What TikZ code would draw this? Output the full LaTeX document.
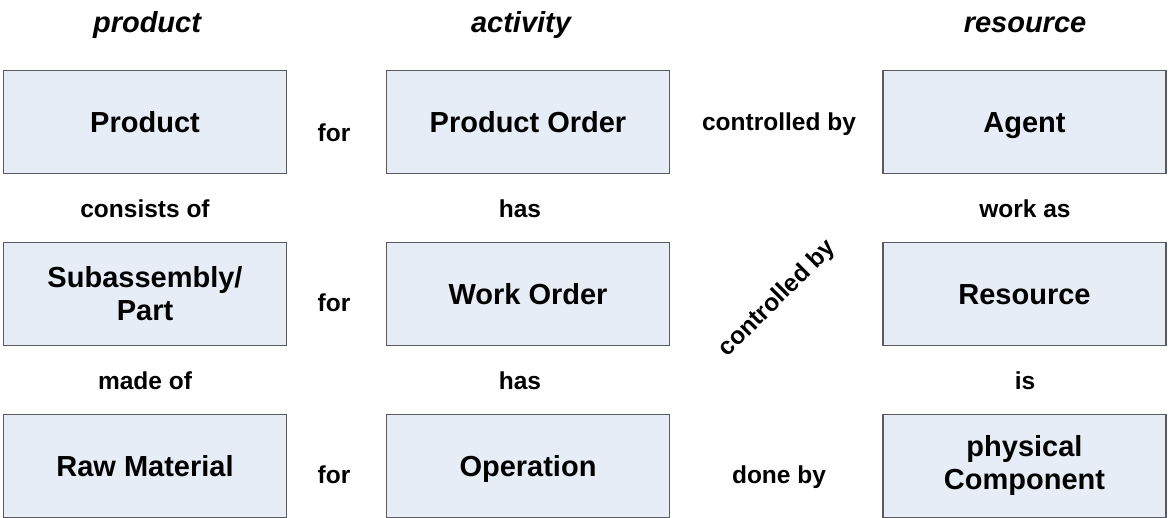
\documentclass[tikz,border=0pt]{standalone}
\usepackage{fontspec}
\setmainfont{Liberation Sans}
\definecolor{boxfill}{HTML}{E6EDF7}
\definecolor{boxline}{HTML}{5A5A5E}
\begin{document}
\begin{tikzpicture}[x=1pt,y=-1pt,
  box/.style={draw=boxline,line width=1.3pt,fill=boxfill,minimum width=283pt,minimum height=103pt,inner sep=0pt,align=center,font=\fontsize{29}{33}\selectfont\bfseries},
  onebox/.style={box,text height=21pt,text depth=0pt},
  lbl/.style={inner sep=0pt,text height=17.6pt,text depth=0pt,font=\fontsize{24.5}{28}\selectfont\bfseries},
  hdr/.style={inner sep=0pt,text height=21pt,text depth=0pt,font=\fontsize{29}{33}\selectfont\bfseries\itshape}]
\useasboundingbox (0,0) rectangle (1168,518);
% headers
\node[hdr] (h1) at (147,22) {product};
\node[hdr] (h2) at (521,22) {activity};
\node[hdr] (h3) at (1025,22) {resource};
% boxes
\node[onebox] (p1) at (145,122) {Product};
\node[box] (p2) at (145,294) {Subassembly/\\Part};
\node[onebox] (p3) at (145,466) {Raw Material};
\node[onebox] (a1) at (528,122) {Product Order};
\node[onebox] (a2) at (528,294) {Work Order};
\node[onebox] (a3) at (528,466) {Operation};
\node[onebox] (r1) at (1024.5,122) {Agent};
\node[onebox] (r2) at (1024.5,294) {Resource};
\node[box] (r3) at (1024.5,466) {physical\\Component};
% labels
\node[lbl] (f1) at (334,133) {for};
\node[lbl] (f2) at (334,303) {for};
\node[lbl] (f3) at (334,475) {for};
\node[lbl] (c1) at (779,122) {controlled by};
\node[lbl,rotate=45] (c2) at (776,297) {controlled by};
\node[lbl] (d1) at (779,475) {done by};
\node[lbl] (v1) at (145,209) {consists of};
\node[lbl] (v2) at (145,381) {made of};
\node[lbl] (v3) at (520,209) {has};
\node[lbl] (v4) at (520,381) {has};
\node[lbl] (v5) at (1025,209) {work as};
\node[lbl] (v6) at (1025,381) {is};
\end{tikzpicture}
\end{document}
